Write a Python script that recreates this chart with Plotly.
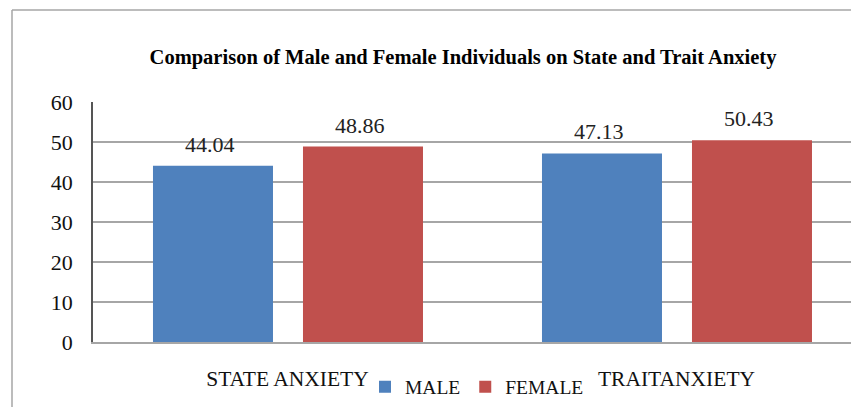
import plotly.graph_objects as go

categories = ["STATE ANXIETY", "TRAIT ANXIETY"]
category_ticks = ["STATE ANXIETY", "TRAITANXIETY"]
male = [44.04, 47.13]
female = [48.86, 50.43]
y_ticks = [0, 10, 20, 30, 40, 50, 60]

OFF = 8  # page body margin
W, H = 859 - OFF, 407 - OFF
L, R, T = 93 - OFF, 0, 102 - OFF
ph = 240
B = H - T - ph
pw = W - L - R
FONT = "Liberation Serif"

fig = go.Figure()
xs = [0, 1]
bw = 0.3085
m_off, f_off = -0.3458, 0.0398
fig.add_trace(go.Bar(x=xs, y=male, name="MALE", marker_color="#4F81BD",
                     width=bw, offset=m_off, marker_line_width=0))
fig.add_trace(go.Bar(x=xs, y=female, name="FEMALE", marker_color="#C0504D",
                     width=bw, offset=f_off, marker_line_width=0))

for xv, v in zip(xs, male):
    fig.add_annotation(x=xv + m_off + bw / 2, y=v, text=f"{v:.2f}", showarrow=False,
                       yanchor="bottom", yshift=7, xshift=-3,
                       font=dict(family=FONT, size=22, color="#222"))
for xv, v in zip(xs, female):
    fig.add_annotation(x=xv + f_off + bw / 2, y=v, text=f"{v:.2f}", showarrow=False,
                       yanchor="bottom", yshift=7, xshift=-3,
                       font=dict(family=FONT, size=22, color="#222"))

# outer chart border (left and top visible)
bx = (12 - OFF - L) / pw
by = (T + ph - (10 - OFF)) / ph
fig.add_shape(type="line", xref="paper", yref="paper", x0=bx, x1=bx, y0=-1, y1=by,
              line=dict(color="#a6a6a6", width=1.5))
fig.add_shape(type="line", xref="paper", yref="paper", x0=bx, x1=1.2, y0=by, y1=by,
              line=dict(color="#a6a6a6", width=1.5))

fig.update_layout(
    width=W, height=H,
    margin=dict(l=L, r=R, t=T, b=B, autoexpand=False),
    paper_bgcolor="white", plot_bgcolor="white",
    font=dict(family=FONT, size=21, color="#111"),
    title=dict(text="<b>Comparison of Male and Female Individuals on State and Trait Anxiety</b>",
               x=(463 - OFF) / W, xanchor="center", y=1 - (57 - OFF) / H, yanchor="middle",
               font=dict(family=FONT, size=20.5, color="#000")),
    barmode="overlay",
    showlegend=True,
    legend=dict(orientation="h", x=(477 - OFF - L) / pw, xanchor="center",
                y=(T + ph - (387 - OFF)) / ph, yanchor="middle",
                font=dict(family=FONT, size=19.5), bgcolor="rgba(0,0,0,0)",
                itemwidth=30, traceorder="normal", tracegroupgap=0),
    xaxis=dict(tickvals=xs, ticktext=category_ticks, range=[-0.5, -0.5 + pw / 389],
               showgrid=False, showline=True, linecolor="#a6a6a6", linewidth=1.5,
               ticks="", ticklabelstandoff=16, fixedrange=True,
               tickfont=dict(family=FONT, size=21.5)),
    yaxis=dict(range=[0, 60], tickvals=y_ticks, showgrid=True, gridcolor="#a6a6a6",
               gridwidth=1.5, showline=True, linecolor="#555", linewidth=1.5,
               ticks="", ticklabelstandoff=14, zeroline=False,
               tickfont=dict(family=FONT, size=22)),
)

fig.write_html("out.html")
